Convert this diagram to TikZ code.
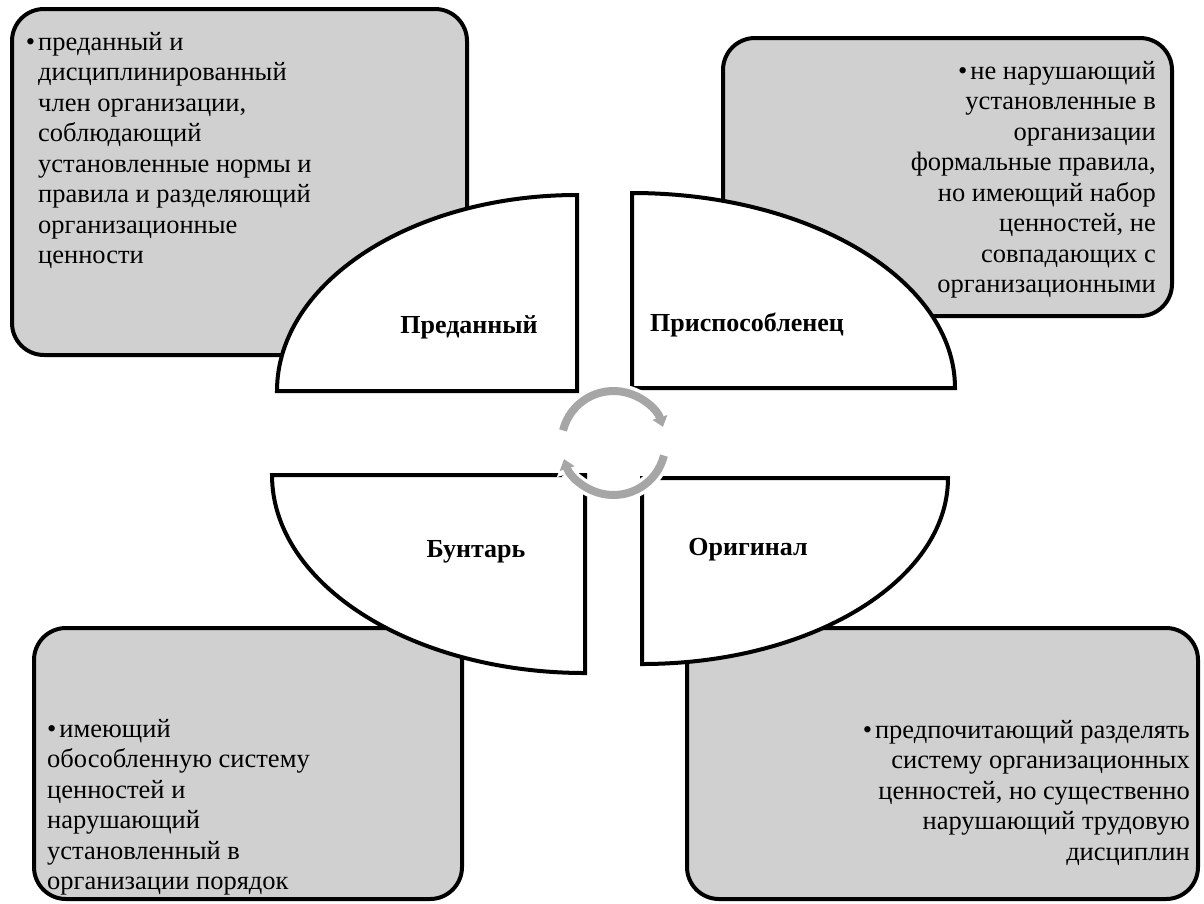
\documentclass[tikz,border=0pt]{standalone}
\usepackage{fontspec}
\setmainfont{Liberation Serif}
\usetikzlibrary{arrows.meta}
\definecolor{boxgray}{HTML}{D0D0D0}
\definecolor{arrowgray}{HTML}{A6A6A6}
\newcommand{\bul}{•\hspace{3pt}}
\begin{document}
\begin{tikzpicture}[x=1pt,y=-1pt,
  infobox/.style={draw=black, line width=4pt, fill=boxgray, rounded corners=32pt},
  quarter/.style={draw=black, line width=4pt, fill=white},
  bodytext/.style={inner sep=0pt, font=\fontsize{26.5}{30.5}\selectfont},
  typelabel/.style={inner sep=0pt, font=\fontsize{26}{30}\selectfont\bfseries},
  halo/.style={white, line width=15pt, -{Triangle[width=24pt,length=15pt]}},
  cyc/.style={arrowgray, line width=8pt, -{Triangle[width=15pt,length=10pt]}}
]
\useasboundingbox (0,0) rectangle (1204,903);
\fill[white] (0,0) rectangle (1204,903);

% grey description boxes
\draw[infobox] (12,9) rectangle (467,355);
\draw[infobox] (723,38) rectangle (1172,316);
\draw[infobox] (34,628) rectangle (462,899);
\draw[infobox] (687,628) rectangle (1198,899);

% box texts
\node[bodytext, anchor=base west] (t1) at (38,50) {\begin{tabular}[t]{@{}l@{}}\llap{\bul}преданный и\\ дисциплинированный\\ член организации,\\ соблюдающий\\ установленные нормы и\\ правила и разделяющий\\ организационные\\ ценности\end{tabular}};
\node[bodytext, anchor=base east] (t2) at (1156,79) {\begin{tabular}[t]{@{}r@{}}\bul не нарушающий\\ установленные в\\ организации\\ формальные правила,\\ но имеющий набор\\ ценностей, не\\ совпадающих с\\ организационными\end{tabular}};
\node[bodytext, anchor=base west] (t3) at (47,737) {\begin{tabular}[t]{@{}l@{}}\bul имеющий\\ обособленную систему\\ ценностей и\\ нарушающий\\ установленный в\\ организации порядок\end{tabular}};
\node[bodytext, anchor=base east] (t4) at (1190,738) {\begin{tabular}[t]{@{}r@{}}\bul предпочитающий разделять\\ систему организационных\\ ценностей, но существенно\\ нарушающий трудовую\\ дисциплин\end{tabular}};

% white quarter shapes
\draw[quarter] (577,195) -- (577,391) -- (277,391) arc[start angle=180, end angle=270, x radius=300, y radius=196] -- cycle;
\draw[quarter] (632,388) -- (632,193) arc[start angle=270, end angle=360, x radius=323, y radius=195] -- cycle;
\draw[quarter] (585,673) -- (585,475) -- (272,475) arc[start angle=180, end angle=90, x radius=313, y radius=198] -- cycle;
\draw[quarter] (642,478) -- (948,478) arc[start angle=0, end angle=90, x radius=306, y radius=186] -- cycle;

% labels
\node[typelabel, anchor=base] (l1) at (469,333) {Преданный};
\node[typelabel, anchor=base] (l2) at (747,331) {Приспособленец};
\node[typelabel, anchor=base] (l3) at (476,557) {Бунтарь};
\node[typelabel, anchor=base] (l4) at (748,555) {Оригинал};

% central cycle arrows
\coordinate (c) at (613.5,443);
\draw[halo] (c) ++(194:52) arc[start angle=194, end angle=342, radius=52];
\draw[halo] (c) ++(14:52) arc[start angle=14, end angle=162, radius=52];
\draw[cyc] (c) ++(194:52) arc[start angle=194, end angle=342, radius=52];
\draw[cyc] (c) ++(14:52) arc[start angle=14, end angle=162, radius=52];
\end{tikzpicture}
\end{document}
